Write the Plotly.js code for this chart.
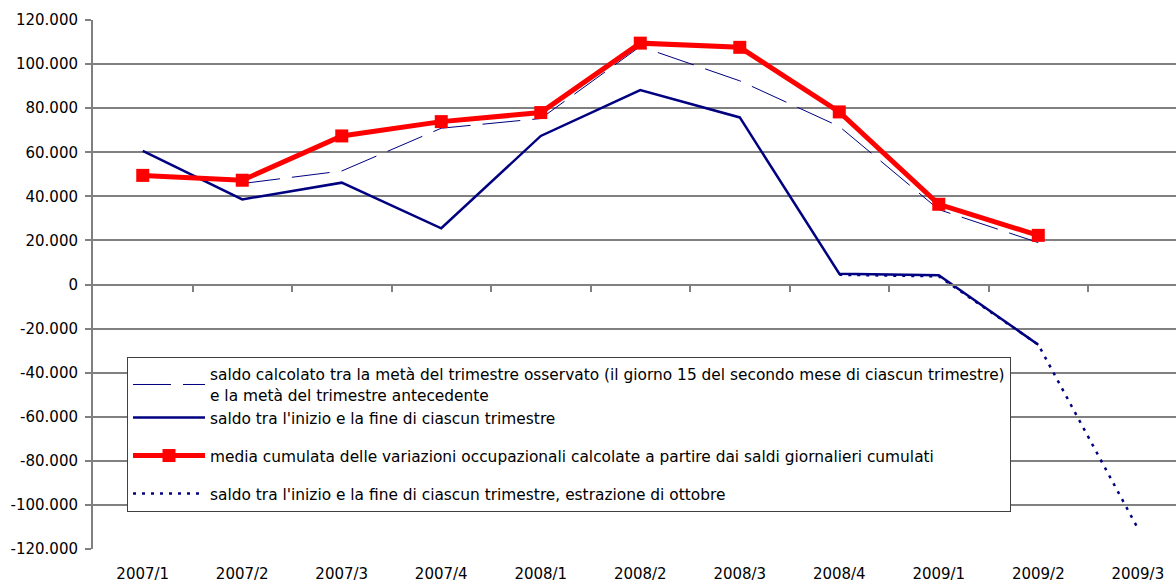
<!DOCTYPE html>
<html>
<head>
<meta charset="utf-8">
<script src="https://cdn.plot.ly/plotly-3.0.1.min.js"></script>
<style>html,body{margin:0;padding:0;background:#fff;}#chart{width:1176px;height:583px;}</style>
</head>
<body>
<div id="chart"></div>
<script>
const quarters = ["2007/1","2007/2","2007/3","2007/4","2008/1","2008/2","2008/3","2008/4","2009/1","2009/2","2009/3"];
const saldoMeta = [null, 45800, 51500, 70900, 75300, 108000, 92400, 71700, 34000, 19000, null];
const saldoInizioFine = [60600, 38600, 46200, 25500, 67400, 88200, 75800, 4900, 4200, -27300, null];
const mediaCumulata = [49500, 47300, 67400, 73900, 78000, 109500, 107600, 78300, 36400, 22300, null];
const saldoOttobre = [null, null, null, null, null, null, null, 4400, 3700, -27300, -110600];
const yTickVals = [120000,100000,80000,60000,40000,20000,0,-20000,-40000,-60000,-80000,-100000,-120000];
const yTickText = ["120.000","100.000","80.000","60.000","40.000","20.000","0","-20.000","-40.000","-60.000","-80.000","-100.000","-120.000"];
const seriesNames = [
  "saldo calcolato tra la metà del trimestre osservato (il giorno 15 del secondo mese di ciascun trimestre)<br>e la metà del trimestre antecedente",
  "saldo tra l'inizio e la fine di ciascun trimestre",
  "media cumulata delle variazioni occupazionali calcolate a partire dai saldi giornalieri cumulati",
  "saldo tra l'inizio e la fine di ciascun trimestre, estrazione di ottobre"
];

const boundaries = quarters.map((q, i) => i + 0.5);
const xRange = [-0.5, 10.384];

const traces = [
  {x: quarters, y: saldoOttobre, name: seriesNames[3], type: 'scatter', mode: 'lines',
   line: {color: '#000080', width: 2.5, dash: '3px,6px'}, legendrank: 4, legendgroup: 'd', connectgaps: false},
  {x: quarters, y: saldoMeta, name: seriesNames[0], type: 'scatter', mode: 'lines',
   line: {color: '#000080', width: 1, dash: '38px,12px'}, legendrank: 1, legendgroup: 'ab'},
  {x: quarters, y: saldoInizioFine, name: seriesNames[1], type: 'scatter', mode: 'lines',
   line: {color: '#000080', width: 2.5}, legendrank: 2, legendgroup: 'ab'},
  {x: quarters, y: mediaCumulata, name: seriesNames[2], type: 'scatter', mode: 'lines+markers',
   line: {color: '#ff0000', width: 5}, marker: {symbol: 'square', size: 13, color: '#ff0000'},
   legendrank: 3, legendgroup: 'c'},
  {x: [], y: [], xaxis: 'x2', yaxis: 'y', type: 'scatter', mode: 'lines', showlegend: false, hoverinfo: 'skip'}
];

const font = {family: 'DejaVu Sans, Verdana, sans-serif', size: 15, color: '#000'};
const legendFont = {family: 'DejaVu Sans, Verdana, sans-serif', size: 15.4, color: '#000'};

const layout = {
  width: 1176, height: 583,
  margin: {l: 93, r: 0, t: 20, b: 34, pad: 0},
  paper_bgcolor: '#fff', plot_bgcolor: '#fff',
  font: font,
  showlegend: true,
  xaxis: {
    type: 'category', categoryorder: 'array', categoryarray: quarters,
    range: xRange, showgrid: false, zeroline: false, showline: false,
    ticks: 'outside', ticklen: 0, tickcolor: 'rgba(0,0,0,0)', ticklabelstandoff: 11,
    tickfont: font, fixedrange: true
  },
  xaxis2: {
    type: 'linear', overlaying: 'x', anchor: 'free', position: 0.5,
    range: xRange, showgrid: false, zeroline: false, showline: true,
    linecolor: '#808080', linewidth: 2,
    tickmode: 'array', tickvals: boundaries, ticks: 'outside', ticklen: 6,
    tickcolor: '#808080', tickwidth: 2, showticklabels: false
  },
  yaxis: {
    range: [-120000, 120000], tickmode: 'array', tickvals: yTickVals, ticktext: yTickText,
    showgrid: true, gridcolor: '#808080', gridwidth: 2, zeroline: false,
    showline: true, linecolor: '#808080', linewidth: 2,
    ticks: 'outside', ticklen: 6, tickcolor: '#808080', tickwidth: 2,
    ticklabelstandoff: 4, tickfont: font
  },
  legend: {
    x: 0.0314, y: 0.363, xanchor: 'left', yanchor: 'top',
    bgcolor: '#fff', bordercolor: '#404040', borderwidth: 1,
    font: legendFont, traceorder: 'grouped', tracegroupgap: 15, itemwidth: 72
  }
};

Plotly.newPlot('chart', traces, layout, {displayModeBar: false, staticPlot: true});
</script>
</body>
</html>
